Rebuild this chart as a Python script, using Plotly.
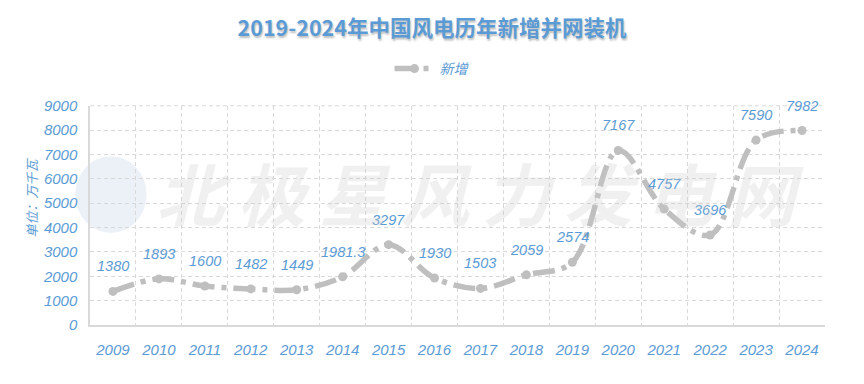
import plotly.graph_objects as go

years = ["2009", "2010", "2011", "2012", "2013", "2014", "2015", "2016",
         "2017", "2018", "2019", "2020", "2021", "2022", "2023", "2024"]
added = [1380, 1893, 1600, 1482, 1449, 1981.3, 3297, 1930,
         1503, 2059, 2574, 7167, 4757, 3696, 7590, 7982]
labels = ["1380", "1893", "1600", "1482", "1449", "1981.3", "3297", "1930",
          "1503", "2059", "2574", "7167", "4757", "3696", "7590", "7982"]

BLUE = "#5B9BD5"
GRAY = "#BFBFBF"
FONT = "Liberation Sans, Noto Sans CJK SC, sans-serif"
xs = list(range(len(years)))

fig = go.Figure()
fig.add_trace(go.Scatter(
    x=xs, y=added, name="新增", mode="lines+markers",
    line=dict(color=GRAY, width=5.5, shape="spline", smoothing=1.0,
              dash="22px,7px,5px,7px"),
    marker=dict(color=GRAY, size=9),
    cliponaxis=False,
))

# data labels
for xv, yv, lab in zip(xs, added, labels):
    fig.add_annotation(x=xv, y=yv, text=lab, showarrow=False, yshift=25,
                       font=dict(color=BLUE, size=14.5, style="italic", family=FONT))

# watermark
wm = "\u2009".join("北极星风力发电网")
fig.add_annotation(x=0.53, y=0.61, xref="paper", yref="paper", text="<b><i>" + wm + "</i></b>",
                   showarrow=False, font=dict(size=68, color="rgba(200,200,200,0.28)",
                                              family="Noto Sans CJK SC"))
fig.add_shape(type="circle", xref="paper", yref="paper", x0=-0.02, x1=0.077, y0=0.42, y1=0.77,
              fillcolor="rgba(200,215,235,0.35)", line=dict(width=0), layer="below")

# y-axis title
fig.add_annotation(x=-0.095, y=0.58, xref="paper", yref="paper", text="单位：万千瓦",
                   textangle=-90, showarrow=False,
                   font=dict(size=13, color=BLUE, style="italic",
                             family="Noto Sans CJK SC, sans-serif"))

fig.update_layout(
    width=864, height=384,
    margin=dict(l=90, r=39, t=101, b=59),
    paper_bgcolor="white", plot_bgcolor="white",
    font=dict(family=FONT, color=BLUE),
    title=dict(text="<b>2019-2024年中国风电历年新增并网装机</b>", x=0.5, xanchor="center",
               y=1 - 28 / 384, yanchor="middle",
               font=dict(size=21.5, color=BLUE, family="Noto Sans CJK SC, sans-serif",
                         shadow="1px 2px 2px rgba(0,0,0,0.25)")),
    showlegend=True,
    legend=dict(orientation="h", x=0.5, xanchor="center", xref="container",
                y=1 - 69 / 384, yanchor="middle",
                yref="container", font=dict(size=14, color=BLUE, style="italic"),
                itemwidth=40, bgcolor="rgba(0,0,0,0)"),
    xaxis=dict(range=[-0.5, 15.5], tickmode="array", tickvals=xs, ticktext=years,
               showgrid=False, zeroline=False, showline=True, linecolor="#D9D9D9", linewidth=1.5,
               ticks="", ticklabelstandoff=10, tickfont=dict(size=15, color=BLUE, style="italic"),
               minor=dict(tickmode="array", tickvals=[i + 0.5 for i in range(16)], showgrid=True,
                          gridcolor="#D9D9D9", griddash="4px,3px", gridwidth=1, ticks="")),
    yaxis=dict(range=[0, 9000], tickmode="linear", tick0=0, dtick=1000,
               showgrid=True, gridcolor="#D9D9D9", griddash="4px,3px", gridwidth=1,
               zeroline=False, showline=True, linecolor="#D9D9D9", linewidth=1.5,
               ticks="", ticklabelstandoff=8,
               tickfont=dict(size=15, color=BLUE, style="italic")),
)
fig.add_shape(type="line", xref="paper", yref="paper", x0=0, x1=1, y0=1, y1=1,
              line=dict(color="#D9D9D9", width=1, dash="4px,3px"), layer="below")

fig.write_html("out.html")
